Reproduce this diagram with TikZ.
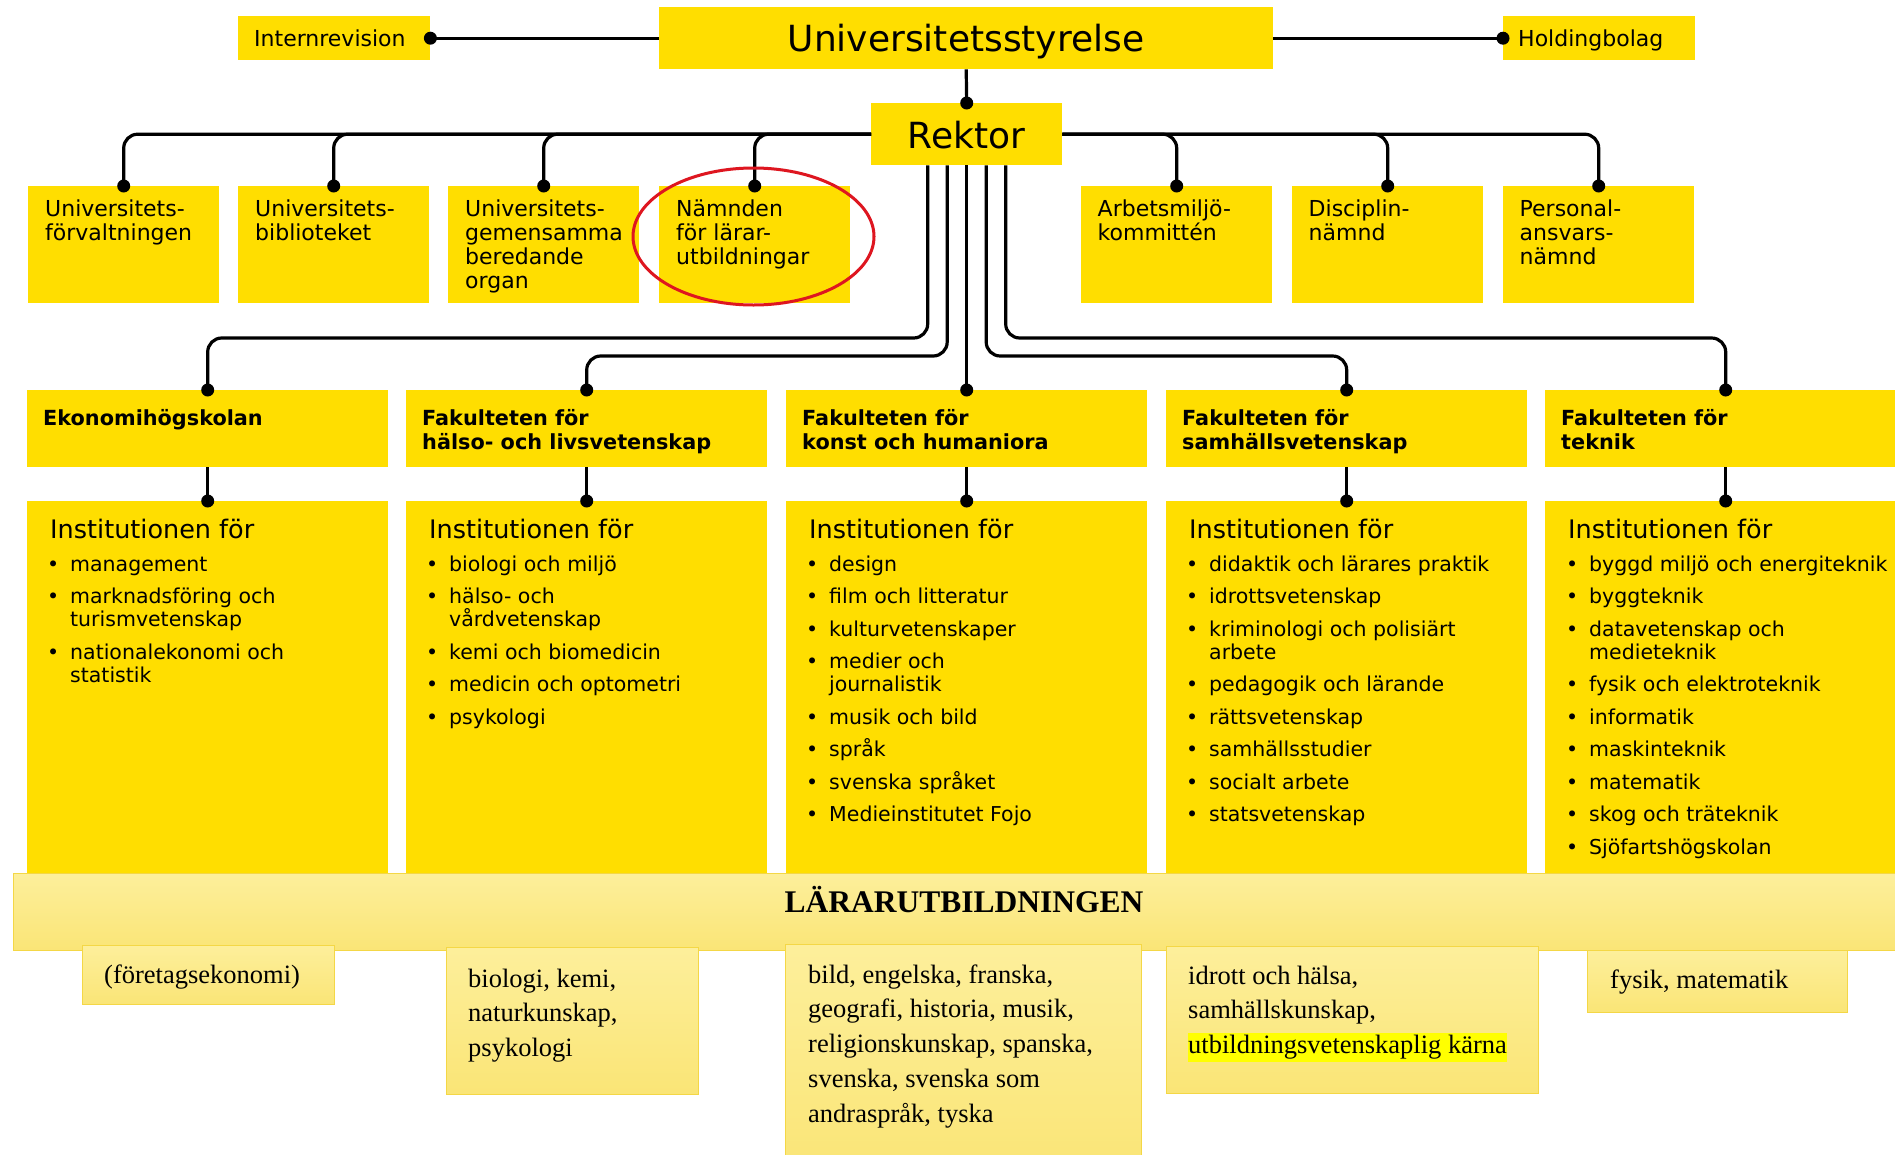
\documentclass[tikz,border=0pt]{standalone}
\usepackage{fontspec}
\setmainfont{DejaVu Sans}
\newfontfamily\serifF{Liberation Serif}
\usetikzlibrary{calc}
\definecolor{kyel}{RGB}{255,222,0}
\definecolor{bandtop}{RGB}{253,239,155}
\definecolor{bandbot}{RGB}{250,229,118}
\definecolor{bandedge}{RGB}{244,215,70}
\definecolor{hlyel}{RGB}{255,255,0}
\definecolor{kred}{RGB}{222,22,32}
\setlength\fboxsep{0pt}
\newcommand\mylines[1]{\begin{tabular}[t]{@{}l@{}}#1\end{tabular}}
\newcommand\instlist[1]{\begin{minipage}[t]{340pt}\raggedright\fontsize{20.5}{23}\selectfont\setlength\parindent{0pt}\setlength\parskip{9.5pt}#1\end{minipage}}
\newcommand\bi{\par\hangindent=23pt\hangafter=1\makebox[23pt][l]{\textbullet}}
\tikzset{
  ybox/.style={fill=kyel, draw=none, inner sep=0pt, anchor=north west},
  lbox/.style={top color=bandtop, bottom color=bandbot, draw=bandedge, line width=1.2pt, inner sep=0pt, anchor=north west},
  txt/.style={inner sep=0pt, anchor=base west},
  conn/.style={line width=3.2pt, black, rounded corners=14pt},
  rowtwo/.style={txt, font=\fontsize{22}{24}\selectfont},
  factitle/.style={txt, font=\bfseries\fontsize{20.8}{24}\selectfont},
  insthead/.style={txt, font=\fontsize{25.5}{28}\selectfont},
  lowtxt/.style={txt, font=\serifF\fontsize{26.5}{34.8}\selectfont},
}
\begin{document}
\begin{tikzpicture}[x=1pt,y=-1pt]
\useasboundingbox (0,0) rectangle (1895,1154);
\clip (0,0) rectangle (1895,1154);
\fill[white] (0,0) rectangle (1895,1154);

% top level
\node[ybox, minimum width=614pt, minimum height=62pt] (us) at (659,7) {};
\node[txt, anchor=base, font=\fontsize{36}{40}\selectfont] (ust) at (966,51) {Universitetsstyrelse};
\node[ybox, minimum width=192pt, minimum height=44pt] (ir) at (238,16) {};
\node[txt, font=\fontsize{22}{24}\selectfont] (irt) at (254,46.5) {Internrevision};
\node[ybox, minimum width=192pt, minimum height=44pt] (hb) at (1503,16) {};
\node[txt, font=\fontsize{22}{24}\selectfont] (hbt) at (1518,46.5) {Holdingbolag};
\node[ybox, minimum width=191pt, minimum height=62pt] (rk) at (871,103) {};
\node[txt, anchor=base, font=\fontsize{36}{40}\selectfont] (rkt) at (966.5,148) {Rektor};

% row 2
\node[ybox, minimum width=191pt, minimum height=117pt] (b1) at (28,186) {};
\node[ybox, minimum width=191pt, minimum height=117pt] (b2) at (238,186) {};
\node[ybox, minimum width=191pt, minimum height=117pt] (b3) at (448,186) {};
\node[ybox, minimum width=191pt, minimum height=117pt] (b4) at (659,186) {};
\node[ybox, minimum width=191pt, minimum height=117pt] (b5) at (1081,186) {};
\node[ybox, minimum width=191pt, minimum height=117pt] (b6) at (1292,186) {};
\node[ybox, minimum width=191pt, minimum height=117pt] (b7) at (1503,186) {};
\node[rowtwo] (b1t) at (45,216) {\mylines{Universitets-\\förvaltningen}};
\node[rowtwo] (b2t) at (255,216) {\mylines{Universitets-\\biblioteket}};
\node[rowtwo] (b3t) at (465,216) {\mylines{Universitets-\\gemensamma\\beredande\\organ}};
\node[rowtwo] (b4t) at (676,216) {\mylines{Nämnden\\för lärar-\\utbildningar}};
\node[rowtwo] (b5t) at (1097.5,216) {\mylines{Arbetsmiljö-\\kommittén}};
\node[rowtwo] (b6t) at (1308.5,216) {\mylines{Disciplin-\\nämnd}};
\node[rowtwo] (b7t) at (1519.5,216) {\mylines{Personal-\\ansvars-\\nämnd}};

% faculties
\node[ybox, minimum width=361pt, minimum height=77pt] (f1) at (27,390) {};
\node[ybox, minimum width=361pt, minimum height=77pt] (f2) at (406,390) {};
\node[ybox, minimum width=361pt, minimum height=77pt] (f3) at (786,390) {};
\node[ybox, minimum width=361pt, minimum height=77pt] (f4) at (1166,390) {};
\node[ybox, minimum width=361pt, minimum height=77pt] (f5) at (1545,390) {};
\node[factitle] (f1t) at (43,425) {\mylines{Ekonomihögskolan}};
\node[factitle] (f2t) at (422,425) {\mylines{Fakulteten för\\hälso- och livsvetenskap}};
\node[factitle] (f3t) at (802,425) {\mylines{Fakulteten för\\konst och humaniora}};
\node[factitle] (f4t) at (1182,425) {\mylines{Fakulteten för\\samhällsvetenskap}};
\node[factitle] (f5t) at (1561,425) {\mylines{Fakulteten för\\teknik}};

% institutions
\node[ybox, minimum width=361pt, minimum height=385pt] (i1) at (27,501) {};
\node[ybox, minimum width=361pt, minimum height=385pt] (i2) at (406,501) {};
\node[ybox, minimum width=361pt, minimum height=385pt] (i3) at (786,501) {};
\node[ybox, minimum width=361pt, minimum height=385pt] (i4) at (1166,501) {};
\node[ybox, minimum width=361pt, minimum height=385pt] (i5) at (1545,501) {};
\node[insthead] (i1h) at (50,538.5) {Institutionen för};
\node[insthead] (i2h) at (429,538.5) {Institutionen för};
\node[insthead] (i3h) at (809,538.5) {Institutionen för};
\node[insthead] (i4h) at (1189,538.5) {Institutionen för};
\node[insthead] (i5h) at (1568,538.5) {Institutionen för};
\node[txt] (i1l) at (47,571) {\instlist{\bi management\bi marknadsföring och\newline turismvetenskap\bi nationalekonomi och\newline statistik}};
\node[txt] (i2l) at (426,571) {\instlist{\bi biologi och miljö\bi hälso- och\newline vårdvetenskap\bi kemi och biomedicin\bi medicin och optometri\bi psykologi}};
\node[txt] (i3l) at (806,571) {\instlist{\bi design\bi film och litteratur\bi kulturvetenskaper\bi medier och\newline journalistik\bi musik och bild\bi språk\bi svenska språket\bi Medieinstitutet Fojo}};
\node[txt] (i4l) at (1186,571) {\instlist{\bi didaktik och lärares praktik\bi idrottsvetenskap\bi kriminologi och polisiärt\newline arbete\bi pedagogik och lärande\bi rättsvetenskap\bi samhällsstudier\bi socialt arbete\bi statsvetenskap}};
\node[txt] (i5l) at (1566,571) {\instlist{\bi byggd miljö och energiteknik\bi byggteknik\bi datavetenskap och\newline medieteknik\bi fysik och elektroteknik\bi informatik\bi maskinteknik\bi matematik\bi skog och träteknik\bi Sjöfartshögskolan}};

% connectors
\draw[conn] (us.west) -- (ir.east);
\draw[conn] (us.east) -- (hb.west);
\draw[conn] (us.south) -- (rk.north);
\foreach \b in {b1,b2,b3,b4}{\draw[conn] (rk.west) -| (\b.north);}
\foreach \b in {b5,b6,b7}{\draw[conn] (rk.east) -| (\b.north);}
\coordinate (hA) at (0,338);
\coordinate (hB) at (0,356);
\draw[conn] ([xshift=-39pt]rk.south) |- (hA -| f1.north) -- (f1.north);
\draw[conn] ([xshift=-19.5pt]rk.south) |- (hB -| f2.north) -- (f2.north);
\draw[conn] (rk.south) -- (f3.north);
\draw[conn] ([xshift=19.5pt]rk.south) |- (hB -| f4.north) -- (f4.north);
\draw[conn] ([xshift=39pt]rk.south) |- (hA -| f5.north) -- (f5.north);
\foreach \n in {1,...,5}{\draw[conn] (f\n.south) -- (i\n.north);}
% dots
\foreach \p in {ir.east,hb.west,rk.north,b1.north,b2.north,b3.north,b4.north,b5.north,b6.north,b7.north,f1.north,f2.north,f3.north,f4.north,f5.north,i1.north,i2.north,i3.north,i4.north,i5.north}{\fill (\p) circle[radius=6.5pt];}

% Lärarutbildningen band
\node[lbox, minimum width=1900pt, minimum height=77pt] (lu) at (13,873) {};
\node[txt, anchor=base, font=\serifF\bfseries\fontsize{31.5}{34}\selectfont] (lut) at (964,912) {LÄRARUTBILDNINGEN};

\node[lbox, minimum width=252pt, minimum height=59pt] (l1) at (82,945) {};
\node[lbox, minimum width=252pt, minimum height=147pt] (l2) at (446,947) {};
\node[lbox, minimum width=356pt, minimum height=230pt] (l3) at (785,944) {};
\node[lbox, minimum width=372pt, minimum height=147pt] (l4) at (1166,946) {};
\node[lbox, minimum width=260pt, minimum height=62pt] (l5) at (1587,950) {};
\node[lowtxt] (l1t) at (104,983) {\mylines{(företagsekonomi)}};
\node[lowtxt] (l2t) at (468,987) {\mylines{biologi, kemi,\\naturkunskap,\\psykologi}};
\node[lowtxt] (l3t) at (808,983) {\mylines{bild, engelska, franska,\\geografi, historia, musik,\\religionskunskap, spanska,\\svenska, svenska som\\andraspråk, tyska}};
\node[lowtxt] (l4t) at (1188,984) {\mylines{idrott och hälsa,\\samhällskunskap,\\\colorbox{hlyel}{\rule[-8pt]{0pt}{29pt}utbildningsvetenskaplig kärna}}};
\node[lowtxt] (l5t) at (1610,988) {\mylines{fysik, matematik}};

% red ellipse
\draw[kred, line width=3pt] (753.5,236.5) ellipse [x radius=120.5pt, y radius=68.5pt];
\end{tikzpicture}
\end{document}
